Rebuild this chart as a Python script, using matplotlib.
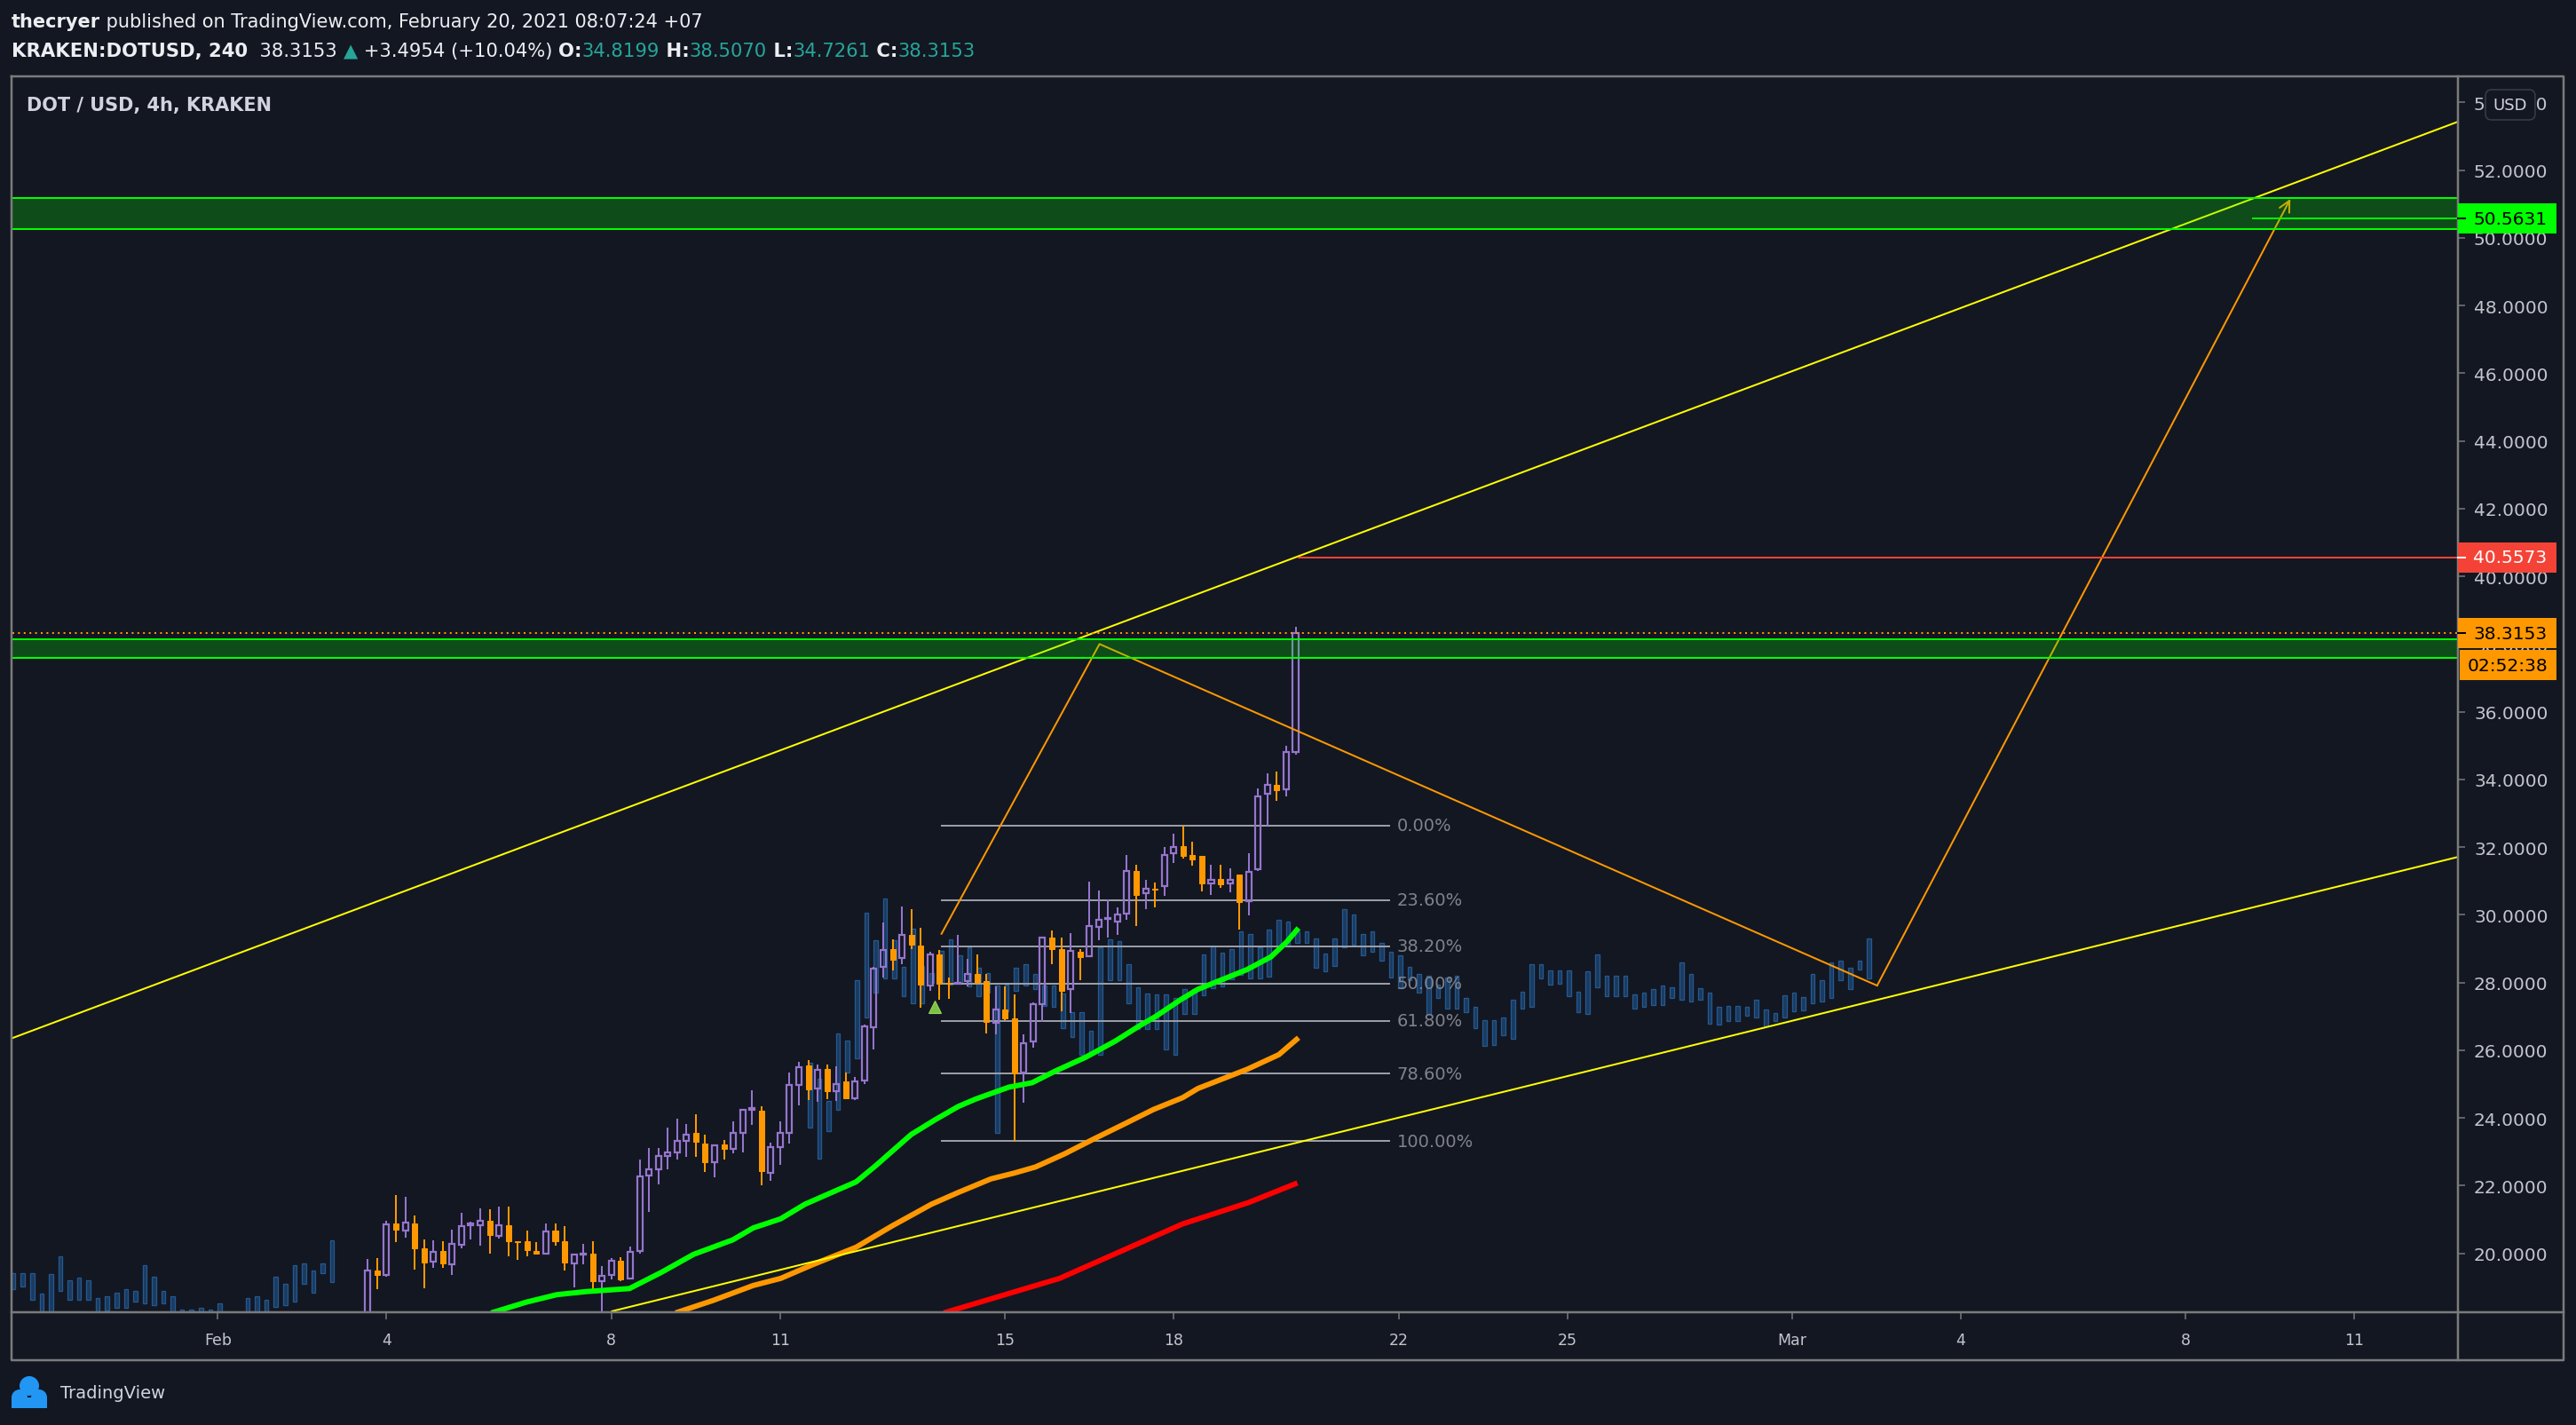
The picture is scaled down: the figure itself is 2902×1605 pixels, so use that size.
"""DOT/USD 4h (KRAKEN) — TradingView 스냅샷 재현.

캔들(보라=상승 hollow, 주황=하락), 반투명 bars-pattern(파랑), MA 3개,
추세선/피보나치/존/가격 태그를 matplotlib 로 그린다.
x 축은 2021-02-01 00:00 기준 일(day) 단위.
"""
import numpy as np
import matplotlib
matplotlib.use("Agg")
import matplotlib.pyplot as plt                       # noqa: E402
from matplotlib.patches import Rectangle, FancyBboxPatch, Circle  # noqa: E402

nan = np.nan

# ── 데이터 ────────────────────────────────────────────────────────────────
CANDLE_START = 2 + 16 / 24          # 첫 캔들: Feb 3 16:00
opens = [
    17.90, 19.48, 19.35, 20.88, 20.67, 20.88, 20.16, 19.76, 20.08, 19.68,
    20.25, 20.83, 20.83, 20.96, 20.52, 20.83, 20.35, 20.37, 20.07, 19.98,
    20.66, 20.36, 19.70, 19.96, 19.98, 19.18, 19.35, 19.77, 19.26, 20.07,
    22.29, 22.48, 22.87, 22.99, 23.32, 23.55, 23.25, 22.70, 23.21, 23.08,
    23.55, 24.24, 24.22, 22.39, 23.13, 23.57, 24.97, 25.54, 24.86, 25.44,
    24.80, 25.07, 24.59, 25.11, 26.67, 28.45, 28.98, 28.72, 29.42, 29.09,
    27.91, 28.83, 27.98, 27.96, 28.04, 28.24, 28.05, 26.82, 27.21, 26.95,
    25.34, 26.25, 27.35, 29.33, 29.00, 27.80, 28.91, 28.78, 29.64, 29.88,
    29.81, 30.03, 31.30, 30.64, 30.78, 30.86, 31.83, 32.02, 31.76, 31.73,
    30.92, 31.07, 30.92, 31.19, 30.40, 31.34, 33.58, 33.85, 33.72, 34.8199,
]
highs = [
    19.83, 19.86, 20.95, 21.71, 21.68, 21.13, 20.42, 20.39, 20.37, 20.71,
    21.21, 20.94, 21.34, 21.29, 21.39, 21.39, 20.36, 20.66, 20.34, 20.87,
    20.87, 20.81, 20.00, 20.27, 20.36, 19.63, 19.86, 19.88, 20.20, 22.78,
    23.12, 23.11, 23.71, 23.99, 23.82, 24.12, 23.50, 23.23, 23.34, 23.90,
    24.26, 24.82, 24.35, 23.27, 23.90, 25.35, 25.65, 25.71, 25.57, 25.57,
    25.53, 25.33, 25.22, 26.75, 28.45, 29.77, 29.28, 30.24, 30.16, 29.62,
    28.91, 28.96, 28.15, 29.42, 28.69, 28.82, 28.26, 27.89, 27.89, 27.64,
    26.46, 27.42, 29.35, 29.55, 29.33, 29.46, 28.98, 30.98, 30.73, 30.45,
    30.23, 31.76, 31.48, 31.04, 30.96, 32.00, 32.41, 32.64, 32.15, 31.75,
    31.49, 31.49, 31.38, 31.19, 31.81, 33.74, 34.19, 34.24, 35.00, 38.5070,
]
lows = [
    17.80, 18.93, 19.30, 20.32, 20.46, 19.51, 18.96, 19.56, 19.56, 19.35,
    20.16, 20.42, 20.24, 19.98, 20.43, 19.92, 19.82, 19.90, 19.96, 19.96,
    20.24, 19.48, 19.00, 19.68, 18.83, 18.20, 19.22, 19.19, 19.24, 20.00,
    21.22, 22.04, 22.48, 22.76, 22.85, 22.86, 22.40, 22.24, 22.76, 22.96,
    22.99, 23.80, 22.00, 22.14, 22.62, 23.24, 24.37, 24.54, 24.47, 24.56,
    24.50, 24.55, 24.52, 24.99, 26.02, 28.15, 28.35, 28.53, 29.00, 27.26,
    27.76, 27.49, 27.53, 27.95, 27.89, 27.98, 26.49, 26.47, 26.90, 23.30,
    24.45, 26.07, 26.84, 28.54, 27.16, 27.10, 28.08, 28.75, 29.26, 29.33,
    29.42, 29.84, 29.68, 30.18, 30.23, 30.57, 31.54, 31.67, 31.46, 30.70,
    30.59, 30.81, 30.66, 29.56, 29.99, 31.30, 32.63, 33.37, 33.50, 34.7261,
]
closes = [
    19.48, 19.35, 20.86, 20.69, 20.91, 20.16, 19.72, 20.04, 19.69, 20.28,
    20.81, 20.88, 20.96, 20.53, 20.83, 20.35, 20.33, 20.09, 20.00, 20.65,
    20.36, 19.72, 19.97, 19.98, 19.18, 19.33, 19.77, 19.22, 20.05, 22.28,
    22.48, 22.87, 22.99, 23.33, 23.51, 23.30, 22.70, 23.19, 23.08, 23.55,
    24.24, 24.28, 22.43, 23.13, 23.57, 24.97, 25.51, 24.84, 25.42, 24.78,
    25.00, 24.59, 25.09, 26.70, 28.41, 28.95, 28.67, 29.42, 29.13, 27.93,
    28.83, 27.97, 27.96, 28.00, 28.24, 28.00, 26.84, 27.21, 26.94, 25.32,
    26.22, 27.36, 29.33, 29.00, 27.75, 28.94, 28.76, 29.68, 29.86, 29.90,
    30.01, 31.30, 30.60, 30.78, 30.75, 31.76, 32.00, 31.74, 31.63, 30.94,
    31.03, 30.89, 31.03, 30.38, 31.27, 33.50, 33.85, 33.69, 34.81, 38.3153,
]

# bars pattern(반투명 파랑 막대) — 4h 간격, 화면 아래로 벗어난 구간은 nan
GHOST_START = -3.636
ghost_high = [
    19.42, 19.42, 19.42, 18.80, 19.38, 19.90, 19.21, 19.27, 19.21, 18.69,
    18.74, 18.84, 18.95, 18.90, 19.64, 19.32, 18.90, 18.74, 18.33, 18.33,
    18.38, 18.33, 18.53, 18.26, nan, 18.69, 18.74, 18.63, 19.32, 19.11,
    19.64, 19.69, 19.48, 19.69, 20.38,
] + [nan] * 50 + [
    25.64, 25.17, 24.50, 26.49, 26.29, 28.06, 30.06, 29.26, 30.47, 29.24,
    28.46, 29.59, 28.48, 28.28, 28.94, 29.28,
    28.81, 29.03, 28.44, 28.28, 27.90, 27.95, 28.44, 28.54, 28.26, 27.91,
    27.91, 27.67, 27.12, 27.12, 26.57, 29.05, 29.27, 29.22, 28.53, 27.86,
    27.68, 27.65, 27.65, 27.54, 27.80, 27.80,
    28.82, 29.09, 28.87, 29.00, 29.52, 29.43, 29.05, 29.57, 29.85,
    29.81, 29.51, 29.50, 29.29, 28.85, 29.29, 30.16, 30.01, 29.44, 29.52,
    29.17, 28.91, 28.81, 28.47, 28.26, 28.21, 27.93, 28.15, 28.19, 27.54,
    27.27, 26.90, 26.90, 26.97, 27.49, 27.74, 28.53, 28.53, 28.37, 28.37,
    28.37, 27.74, 28.32, 28.83, 28.19, 28.21, 28.19, 27.65, 27.70, 27.80,
    27.91, 27.86, 28.59, 28.26, 27.84, 27.71, 27.27, 27.32, 27.32, 27.27,
    27.48, 27.21, 27.10, 27.62, 27.69, 27.58, 28.26, 28.06, 28.59, 28.65,
    28.44, 28.65, 29.31,
]
ghost_low = [
    18.95, 19.01, 18.63, 18.00, 18.00, 18.90, 18.63, 18.63, 18.63, 18.00,
    18.32, 18.38, 18.38, 18.58, 18.53, 18.48, 18.53, 18.00, 18.00, 18.00,
    18.00, 18.00, 18.00, 18.00, nan, 18.00, 18.00, 18.00, 18.42, 18.48,
    18.58, 19.11, 18.84, 19.42, 19.16,
] + [nan] * 50 + [
    23.71, 22.81, 23.60, 24.24, 25.35, 25.76, 26.97, 27.71, 28.13, 28.13,
    27.60, 27.39, 27.39, 28.00, 28.00, 27.95,
    27.97, 27.89, 27.60, 27.71, 23.55, 27.14, 27.75, 27.91, 27.80, 27.30,
    27.28, 26.66, 26.40, 25.87, 25.87, 25.87, 28.06, 28.06, 27.39, 26.62,
    26.62, 26.62, 26.02, 25.87, 27.07, 27.07,
    27.62, 27.84, 27.89, 28.10, 28.22, 28.12, 28.12, 28.17, 29.03,
    29.07, 29.16, 29.18, 28.44, 28.32, 28.48, 29.03, 29.11, 28.81, 28.91,
    28.65, 28.15, 27.84, 28.06, 27.71, 27.07, 27.54, 27.23, 27.23, 27.12,
    26.66, 26.14, 26.15, 26.44, 26.34, 27.23, 27.27, 28.12, 27.93, 27.97,
    27.60, 27.12, 27.07, 27.86, 27.60, 27.60, 27.60, 27.23, 27.27, 27.33,
    27.33, 27.54, 27.49, 27.45, 27.49, 26.79, 26.75, 26.86, 26.87, 27.01,
    26.97, 26.70, 26.86, 26.97, 27.14, 27.18, 27.39, 27.45, 27.54, 28.06,
    27.80, 28.39, 28.12,
]

# 이동평균 (day, price)
ma_green_x = [4.86, 5.49, 6.03, 6.55, 7.32, 7.89, 8.46, 9.16, 9.52, 10.01,
              10.44, 10.92, 11.35, 11.70, 12.33, 12.76, 13.17, 13.48, 14.07,
              14.48, 14.90, 15.43, 15.96, 16.37, 16.69, 17.12, 17.43, 18.30,
              18.73, 19.01, 19.22]
ma_green_y = [18.24, 18.56, 18.78, 18.87, 18.96, 19.44, 19.97, 20.40, 20.75,
              21.02, 21.45, 21.80, 22.11, 22.59, 23.51, 23.95, 24.34, 24.56,
              24.91, 25.04, 25.39, 25.79, 26.27, 26.70, 27.01, 27.49, 27.80,
              28.38, 28.76, 29.20, 29.61]
ma_orange_x = [8.14, 8.81, 9.52, 10.01, 10.57, 11.35, 11.98, 12.69, 13.17,
               13.75, 14.16, 14.54, 15.06, 15.58, 16.12, 16.64, 17.16, 17.43,
               18.31, 18.87, 19.22]
ma_orange_y = [18.24, 18.61, 19.05, 19.26, 19.66, 20.18, 20.80, 21.45, 21.80,
               22.20, 22.37, 22.55, 22.94, 23.38, 23.82, 24.25, 24.60, 24.87,
               25.44, 25.87, 26.37]
ma_red_x = [12.91, 14.97, 17.16, 18.33, 19.20]
ma_red_y = [18.24, 19.26, 20.87, 21.50, 22.08]

# 드로잉
upper_trend = ([-3.654, 39.84], [26.36, 53.43])
lower_trend = ([7.01, 39.84], [18.29, 31.71])
path_x = [12.87, 15.68, 29.51, 36.86]
path_y = [29.44, 38.00, 27.91, 51.15]
zones = [(37.58, 38.15), (50.25, 51.18)]
fib_high, fib_low = 32.64, 23.31
fib_ratios = [0.0, 0.236, 0.382, 0.5, 0.618, 0.786, 1.0]
fib_x = (12.86, 20.84)
red_level, red_from = 40.5573, 19.20
green_level, green_from = 50.5631, 36.18
last_price = 38.3153
signal_marker = (12.75, 27.27)

tick_days = [0, 3, 7, 10, 14, 17, 21, 24, 28, 31, 35, 38]
tick_labels = ["Feb", "4", "8", "11", "15", "18", "22", "25", "Mar", "4", "8", "11"]
price_ticks = [20, 22, 24, 26, 28, 30, 32, 34, 36, 38, 40, 42, 44, 46, 48, 50, 52, 54]

# ── 스타일 ────────────────────────────────────────────────────────────────
W, H = 2902, 1606
BG = "#131722"
PURPLE = "#9575cd"
ORANGE = "#ff9800"
LIME = "#00ff00"
YELLOW = "#ffff00"
TEAL = "#26a69a"
FRAME = "#7b7b7b"
TXT = "#d1d4dc"
AXTXT = "#c3c5cc"
PLOT_L, PLOT_R, PLOT_T, PLOT_B = 14, 2769, 87, 1479
PX = 0.72                            # 1 px 을 pt 로

fig = plt.figure(figsize=(W / 100, H / 100), dpi=100, facecolor=BG)
ax = fig.add_axes([PLOT_L / W, 1 - PLOT_B / H, (PLOT_R - PLOT_L) / W, (PLOT_B - PLOT_T) / H])
ax.set_facecolor(BG)
ax.set_xlim(-3.654, 39.84)
ax.set_ylim(18.26, 54.77)
for s in ax.spines.values():
    s.set_visible(False)

# bars pattern
g_hi = np.array(ghost_high)
g_lo = np.array(ghost_low)
g_x = GHOST_START + np.arange(len(g_hi)) / 6
ok = ~np.isnan(g_hi)
ax.bar(g_x[ok], g_hi[ok] - g_lo[ok], bottom=g_lo[ok], width=0.072,
       facecolor="#1a3a60", edgecolor="#24598f", linewidth=1.3 * PX, zorder=1)

# 피보나치
fib_levels = fib_high - np.array(fib_ratios) * (fib_high - fib_low)
ax.hlines(fib_levels, fib_x[0], fib_x[1], colors="#9a9da6", linewidth=2 * PX, zorder=2)
for r, lv in zip(fib_ratios, fib_levels):
    ax.text(fib_x[1] + 0.13, lv, f"{r * 100:.2f}%", color="#80838c", fontsize=14,
            va="center", ha="left", zorder=2)

# 캔들
o, h, l, c = (np.array(v) for v in (opens, highs, lows, closes))
cx = CANDLE_START + np.arange(len(o)) / 6
up = c >= o
dn = ~up
ax.vlines(cx[up], np.maximum(o, c)[up], h[up], colors=PURPLE, linewidth=2 * PX, zorder=3)
ax.vlines(cx[up], l[up], np.minimum(o, c)[up], colors=PURPLE, linewidth=2 * PX, zorder=3)
ax.vlines(cx[dn], l[dn], h[dn], colors=ORANGE, linewidth=2 * PX, zorder=3)
ax.bar(cx[up], (c - o)[up], bottom=o[up], width=0.095, facecolor="none",
       edgecolor=PURPLE, linewidth=2.2 * PX, zorder=3)
ax.bar(cx[dn], (o - c)[dn], bottom=c[dn], width=0.095, facecolor=ORANGE,
       edgecolor=ORANGE, linewidth=1 * PX, zorder=3)

# 이동평균
ax.plot(ma_red_x, ma_red_y, color="#ff0000", linewidth=6 * PX, solid_capstyle="butt", zorder=4)
ax.plot(ma_orange_x, ma_orange_y, color=ORANGE, linewidth=6 * PX, solid_capstyle="butt", zorder=4)
ax.plot(ma_green_x, ma_green_y, color=LIME, linewidth=6 * PX, solid_capstyle="butt", zorder=4)

# 시그널 삼각형
ax.plot(*signal_marker, marker="^", markersize=10, color="#7cc142", markeredgecolor="#9bd45c",
        markeredgewidth=0.8, linestyle="none", zorder=4)

# 추세선 / 경로
ax.plot(*upper_trend, color=YELLOW, linewidth=2 * PX, zorder=5)
ax.plot(*lower_trend, color=YELLOW, linewidth=2 * PX, zorder=5)
ax.plot(path_x[:-1], path_y[:-1], color=ORANGE, linewidth=2 * PX, zorder=5)
ax.annotate("", xy=(path_x[-1], path_y[-1]), xytext=(path_x[-2], path_y[-2]),
            arrowprops=dict(arrowstyle="->", color=ORANGE, lw=2 * PX, mutation_scale=22,
                            shrinkA=0, shrinkB=0), zorder=5)

# 수평선
xmax = ax.get_xlim()[1]
ax.hlines(red_level, red_from, xmax, colors="#f44336", linewidth=2 * PX, zorder=5)
ax.hlines(green_level, green_from, xmax, colors=LIME, linewidth=2 * PX, zorder=6)

# 존 (캔들/선 위에 반투명)
xmin = ax.get_xlim()[0]
for lo_, hi_ in zones:
    ax.add_patch(Rectangle((xmin, lo_), xmax - xmin, hi_ - lo_, facecolor=LIME, alpha=0.23,
                           edgecolor="none", zorder=6))
    ax.hlines([lo_, hi_], xmin, xmax, colors=LIME, linewidth=2 * PX, zorder=6)

# 현재가 점선
ax.axhline(last_price, color=ORANGE, linewidth=2 * PX, linestyle=(0, (1, 2.2)), zorder=7)

# 축
ax.yaxis.tick_right()
ax.set_yticks(price_ticks, [f"{v:.4f}" for v in price_ticks])
ax.tick_params(axis="y", direction="out", length=8 * PX, width=1.5 * PX, color=FRAME,
               pad=10 * PX, labelsize=14.5, labelcolor=AXTXT)
ax.set_xticks(tick_days, tick_labels)
ax.tick_params(axis="x", direction="out", length=8 * PX, width=1.5 * PX, color=FRAME,
               pad=14 * PX, labelsize=12.5, labelcolor=AXTXT)

# ── 오버레이 (픽셀 좌표) ────────────────────────────────────────────────
ov = fig.add_axes([0, 0, 1, 1], zorder=5)
ov.set_xlim(0, W)
ov.set_ylim(H, 0)
ov.axis("off")
ov.patch.set_alpha(0)

# 프레임
fl = dict(color=FRAME, linewidth=2.5 * PX)
ov.plot([13, 2888, 2888, 13, 13], [87, 87, 1533, 1533, 87], **fl)
ov.plot([PLOT_R, PLOT_R], [87, 1533], **fl)
ov.plot([13, 2888], [PLOT_B, PLOT_B], **fl)


def price_to_px(p):
    return H - ax.transData.transform((0, p))[1]


# 가격 태그
tags = [(green_level, LIME, "black"), (red_level, "#f44336", "white"), (last_price, ORANGE, "black")]
for p, bgc, fgc in tags:
    y = price_to_px(p)
    ov.add_patch(Rectangle((PLOT_R, y - 17), 111, 34, facecolor=bgc, edgecolor="none", zorder=10))
    ov.plot([PLOT_R, PLOT_R + 8], [y, y], color=fgc, linewidth=2 * PX, zorder=11)
    ov.text(2786, y, f"{p:.4f}", color=fgc, fontsize=14.5, va="center", ha="left", zorder=11)
y_last = price_to_px(last_price)
ov.add_patch(Rectangle((PLOT_R + 2, y_last + 19), 109, 34, facecolor=ORANGE, edgecolor="none", zorder=10))
ov.text(2825, y_last + 36, "02:52:38", color="black", fontsize=14.5, va="center", ha="center", zorder=11)

# USD 버튼
ov.add_patch(FancyBboxPatch((2800, 102), 56, 34, boxstyle="round,pad=0,rounding_size=7",
                            facecolor=BG, edgecolor="#3a3e4a", linewidth=1.5 * PX, zorder=10))
ov.text(2828, 119.5, "USD", color=TXT, fontsize=13, va="center", ha="center", zorder=11)

# 헤더
renderer = fig.canvas.get_renderer()


def draw_runs(x, y, runs, size):
    for text, color, weight in runs:
        t = ov.text(x, y, text, color=color, fontsize=size, fontweight=weight,
                    va="baseline", ha="left")
        x += t.get_window_extent(renderer).width


WHITE = "#eceef2"
draw_runs(13, 31, [("thecryer", WHITE, "bold"),
                   (" published on TradingView.com, February 20, 2021 08:07:24 +07", WHITE, "normal")], 15)
draw_runs(13, 64, [("KRAKEN:DOTUSD, 240", WHITE, "bold"), ("  38.3153 ", WHITE, "normal"),
                   ("\u25b2", TEAL, "normal"), (" +3.4954 (+10.04%) ", WHITE, "normal"),
                   ("O:", WHITE, "bold"), ("34.8199", TEAL, "normal"),
                   (" H:", WHITE, "bold"), ("38.5070", TEAL, "normal"),
                   (" L:", WHITE, "bold"), ("34.7261", TEAL, "normal"),
                   (" C:", WHITE, "bold"), ("38.3153", TEAL, "normal")], 15.2)
ov.text(30, 119, "DOT / USD, 4h, KRAKEN", color=TXT, fontsize=15, fontweight="semibold",
        va="center", ha="left")

# 로고
for cxy, r in [((33, 1562), 11), ((22, 1575), 9), ((44, 1575), 9)]:
    ov.add_patch(Circle(cxy, r, facecolor="#2196f3", edgecolor="none"))
ov.add_patch(Rectangle((13, 1575), 40, 12, facecolor="#2196f3", edgecolor="none"))
ov.text(68, 1570, "TradingView", color=TXT, fontsize=14, va="center", ha="left")

fig.savefig("out.png", dpi=100, facecolor=BG)
